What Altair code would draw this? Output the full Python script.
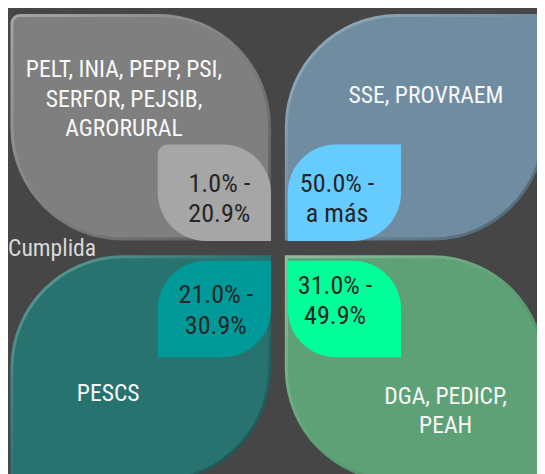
import altair as alt
import pandas as pd

# ---------------- data ----------------
claves = ["a", "b", "c", "d"]
filas = ["superior", "superior", "inferior", "inferior"]
columnas = ["izquierda", "derecha", "izquierda", "derecha"]
programas = [
    "PELT, INIA, PEPP, PSI,\nSERFOR, PEJSIB,\nAGRORURAL",
    "SSE, PROVRAEM",
    "PESCS",
    "DGA, PEDICP,\nPEAH",
]
rangos = ["1.0% -\n20.9%", "50.0% -\na más", "21.0% -\n30.9%", "31.0% -\n49.9%"]
etiqueta_lateral = ["Cumplida"]

# ---------------- style ----------------
colores_hoja = ["#7f7f7f", "#6f8ca0", "#287370", "#5ea176"]
colores_centro = ["#a6a6a6", "#66ccff", "#009999", "#00ff99"]
FONDO = "#464646"
FONT = "Roboto Condensed, Liberation Sans Narrow, Arial Narrow, DejaVu Sans Condensed, sans-serif"
OFF = 8  # page margin

df = pd.DataFrame({
    "clave": claves, "fila": filas, "columna": columnas,
    "programa": programas, "rango": rangos,
})

def band(a, b, bw, domain):
    gap = (b - a) - 2 * bw
    return alt.Scale(type="band", domain=domain, range=[a - OFF, b - OFF],
                     paddingInner=gap / (bw + gap), paddingOuter=0)

COLS = ["izquierda", "derecha"]
ROWS = ["superior", "inferior"]
big_x = band(12, 552, 261.5, COLS)
big_y = band(12, 484, 227, ROWS)
small_x = band(160, 407, 115, COLS)
small_y = band(143, 359, 98, ROWS)

def shade(hexc, f):
    h = hexc.lstrip("#")
    r, g, b = (int(h[i:i + 2], 16) for i in (0, 2, 4))
    if f >= 0:
        r, g, b = (int(c + (255 - c) * f) for c in (r, g, b))
    else:
        r, g, b = (int(c * (1 + f)) for c in (r, g, b))
    return "#%02x%02x%02x" % (r, g, b)

R, r0 = 113, 8
S, s0 = 49, 10
esquinas_hoja = [  # TL, TR, BR, BL
    (r0, R, 0, R), (R, r0, R, 0), (R, 0, R, r0), (0, R, r0, R)]
esquinas_centro = [
    (s0, S, 0, S), (S, 0, S, 0), (S, 0, S, 0), (0, S, 0, S)]
desp_prog = [(-17, -28), (11, -31.5), (-33, 25.5), (31, 44)]
desp_rango = [(5, 6.5), (-7.5, 6.5), (1.5, 1.5), (-9.5, -8)]
LH_PROG, LH_RANGO = 29.5, 31

capas = []
for i, k in enumerate(claves):
    base = alt.Chart(df).transform_filter(alt.datum.clave == k)
    fill_big = alt.Fill("clave:N", scale=alt.Scale(domain=claves, range=colores_hoja), legend=None)
    fill_small = alt.Fill("clave:N", scale=alt.Scale(domain=claves, range=colores_centro), legend=None)
    tl, tr, br, bl = esquinas_hoja[i]
    grad = alt.LinearGradient(
        gradient="linear",
        stops=[alt.GradientStop(color=shade(colores_hoja[i], 0.3), offset=0),
               alt.GradientStop(color=colores_hoja[i], offset=0.5),
               alt.GradientStop(color=shade(colores_hoja[i], -0.3), offset=1)],
        x1=0, y1=0, x2=1, y2=1)
    hoja = base.mark_rect(
        cornerRadiusTopLeft=tl, cornerRadiusTopRight=tr,
        cornerRadiusBottomRight=br, cornerRadiusBottomLeft=bl,
        stroke=grad, strokeWidth=3, opacity=1,
    ).encode(
        x=alt.X("columna:N", scale=big_x, axis=None),
        y=alt.Y("fila:N", scale=big_y, axis=None),
        fill=fill_big,
    )
    tl, tr, br, bl = esquinas_centro[i]
    centro = base.mark_rect(
        cornerRadiusTopLeft=tl, cornerRadiusTopRight=tr,
        cornerRadiusBottomRight=br, cornerRadiusBottomLeft=bl, opacity=1,
    ).encode(
        x=alt.X("columna:N", scale=small_x, axis=None),
        y=alt.Y("fila:N", scale=small_y, axis=None),
        fill=fill_small,
    )
    dx, dy = desp_prog[i]
    n = programas[i].count("\n")
    txt_prog = base.mark_text(
        font=FONT, fontSize=24, lineHeight=LH_PROG, lineBreak="\n",
        color="#f8f8f8", align="center", baseline="middle",
        dx=dx, dy=dy - n * LH_PROG / 2,
    ).encode(
        x=alt.X("columna:N", scale=big_x, axis=None, bandPosition=0.5),
        y=alt.Y("fila:N", scale=big_y, axis=None, bandPosition=0.5),
        text="programa:N",
    )
    dx, dy = desp_rango[i]
    n = rangos[i].count("\n")
    txt_rango = base.mark_text(
        font=FONT, fontSize=26.5, lineHeight=LH_RANGO, lineBreak="\n",
        color="#262626", align="center", baseline="middle",
        dx=dx, dy=dy - n * LH_RANGO / 2,
    ).encode(
        x=alt.X("columna:N", scale=small_x, axis=None, bandPosition=0.5),
        y=alt.Y("fila:N", scale=small_y, axis=None, bandPosition=0.5),
        text="rango:N",
    )
    capas += [hoja, centro, txt_prog, txt_rango]

lateral = alt.Chart(pd.DataFrame({"t": etiqueta_lateral})).mark_text(
    font=FONT, fontSize=24, color="#d9d9d9", align="left", baseline="alphabetic",
).encode(x=alt.value(0), y=alt.value(256 - OFF), text="t:N")
capas.append(lateral)

chart = alt.layer(*capas).resolve_scale(
    x="independent", y="independent", fill="independent"
).properties(
    width=545 - OFF, height=474 - OFF, background=FONDO, padding=0, autosize="none",
).configure_view(stroke=None)

chart.save("out.html", embed_options={"renderer": "svg", "actions": False})
